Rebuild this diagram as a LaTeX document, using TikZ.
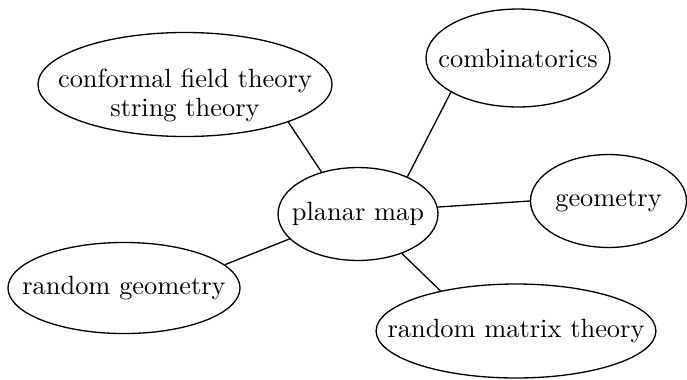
\documentclass[tikz,border=0pt]{standalone}
\usetikzlibrary{shapes.geometric}
\begin{document}
\begin{tikzpicture}[x=0.3788pt,y=-0.3788pt,
  topic/.style={draw, ellipse, inner sep=0pt, line width=0.5pt},
  txt/.style={label={[align=center, inner sep=0pt]center:#1}},
  link/.style={draw, line width=0.5pt}]
\useasboundingbox (0,0) rectangle (687,379);
\node[topic, minimum width=111.4pt, minimum height=39.4pt,
  label={[align=center, inner sep=0pt, yshift=-4.3pt]center:conformal field theory\\[-1pt]string theory}] (cft) at (185,84.5) {};
\node[topic, minimum width=69.7pt, minimum height=37.1pt, txt={combinatorics}] (comb) at (518,58) {};
\node[topic, minimum width=60.6pt, minimum height=35.2pt, txt={planar map}] (pm) at (358,214) {};
\node[topic, minimum width=59.1pt, minimum height=35.2pt, txt={geometry}] (geo) at (608.5,201) {};
\node[topic, minimum width=87.9pt, minimum height=34.5pt, txt={random geometry}] (rg) at (124,288) {};
\node[topic, minimum width=106pt, minimum height=35.6pt, txt={random matrix theory}] (rmt) at (516,331) {};
\draw[link] (cft.-20.9) -- (pm.131.4);
\draw[link] (comb.207.9) -- (pm.37.6);
\draw[link] (geo.180.7) -- (pm.5);
\draw[link] (rg.13.4) -- (pm.200.6);
\draw[link] (rmt.152.2) -- (pm.-42.9);
\end{tikzpicture}
\end{document}
